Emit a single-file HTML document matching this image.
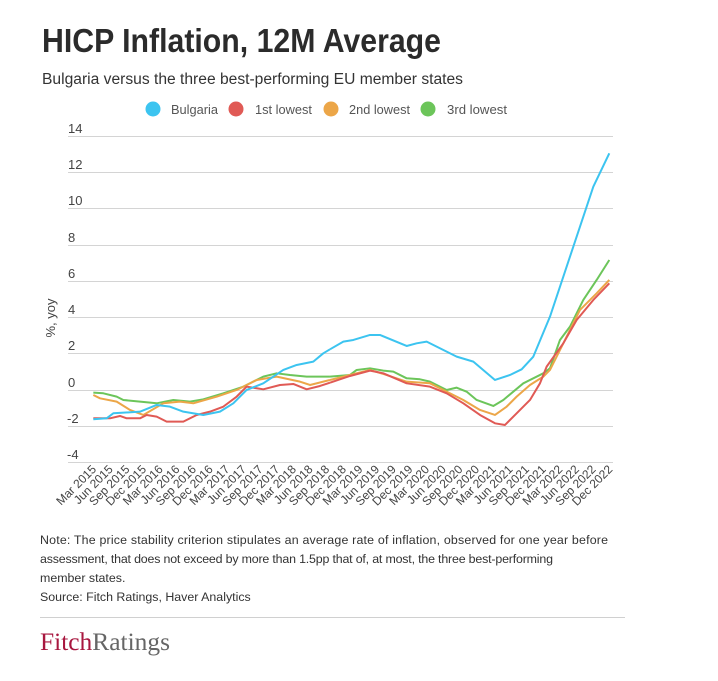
<!DOCTYPE html>
<html><head><meta charset="utf-8"><style>
html,body{margin:0;padding:0;background:#fff;}
svg{display:block;font-family:"Liberation Sans",sans-serif;}
</style></head><body>
<svg width="718" height="681" viewBox="0 0 718 681" xmlns="http://www.w3.org/2000/svg">
<text x="42" y="52" font-size="33" font-weight="bold" fill="#2b2b2b" textLength="399" lengthAdjust="spacingAndGlyphs">HICP Inflation, 12M Average</text>
<text x="42" y="84" font-size="15.5" fill="#333" textLength="421" lengthAdjust="spacingAndGlyphs">Bulgaria versus the three best-performing EU member states</text>
<g font-size="13" fill="#555">
<circle cx="153" cy="109" r="7.5" fill="#3cc4f0"/><text x="171" y="114" textLength="47" lengthAdjust="spacingAndGlyphs">Bulgaria</text>
<circle cx="236" cy="109" r="7.5" fill="#e05a55"/><text x="255" y="114" textLength="57" lengthAdjust="spacingAndGlyphs">1st lowest</text>
<circle cx="331" cy="109" r="7.5" fill="#eca648"/><text x="349" y="114" textLength="61" lengthAdjust="spacingAndGlyphs">2nd lowest</text>
<circle cx="428" cy="109" r="7.5" fill="#6cc55a"/><text x="447" y="114" textLength="60" lengthAdjust="spacingAndGlyphs">3rd lowest</text>
</g>
<g stroke="#d4d4d4" stroke-width="1">
<line x1="68" x2="613" y1="136.5" y2="136.5"/><line x1="68" x2="613" y1="172.5" y2="172.5"/>
<line x1="68" x2="613" y1="208.5" y2="208.5"/><line x1="68" x2="613" y1="245.5" y2="245.5"/>
<line x1="68" x2="613" y1="281.5" y2="281.5"/><line x1="68" x2="613" y1="317.5" y2="317.5"/>
<line x1="68" x2="613" y1="353.5" y2="353.5"/><line x1="68" x2="613" y1="390.5" y2="390.5"/>
<line x1="68" x2="613" y1="426.5" y2="426.5"/><line x1="68" x2="613" y1="462.5" y2="462.5"/>
</g>
<g font-size="13" fill="#444">
<text x="68" y="133">14</text><text x="68" y="169">12</text><text x="68" y="205">10</text>
<text x="68" y="242">8</text><text x="68" y="278">6</text><text x="68" y="314">4</text>
<text x="68" y="350">2</text><text x="68" y="387">0</text><text x="67" y="423">-2</text><text x="67" y="459">-4</text>
</g>
<text transform="translate(55,318) rotate(-90)" text-anchor="middle" font-size="13" fill="#444">%, yoy</text>
<g fill="none" stroke-width="6" stroke-linejoin="round" transform="translate(30,110) scale(0.3333)">
<polyline stroke="#6cc55a" points="190,848 220,850 260,860 280,870 330,875 380,880 430,870 480,875 520,868 580,850 640,830 700,800 740,790 780,795 830,800 900,800"/>
<polyline stroke="#eca648" points="190,855 210,865 260,875 300,900 340,915 400,880 450,875 490,880 560,860 620,840 680,810 740,800 810,815 840,825 880,815 900,810"/>
<polyline stroke="#e05a55" points="190,925 240,925 270,918 290,925 330,925 350,915 380,920 410,935 460,935 500,915 540,905 580,890 620,860 650,830 700,838 750,825 790,822 830,838 870,828 900,818"/>
<polyline stroke="#3cc4f0" points="190,928 230,925 250,910 330,905 380,885 420,890 460,905 520,915 570,905 610,880 650,840 700,820 760,780 800,765 850,755 880,730 900,718"/>
</g>
<g fill="none" stroke-width="6" stroke-linejoin="round" transform="translate(330,110) scale(0.3333)">
<polyline stroke="#6cc55a" points="0,800 60,795 80,780 120,775 160,782 190,785 230,805 270,808 300,815 350,840 380,833 410,845 440,870 490,888 520,870 580,820 640,790 660,775 690,690 720,650 760,570 800,510 838,450"/>
<polyline stroke="#eca648" points="0,810 60,795 120,780 160,792 230,815 300,820 350,845 400,870 450,900 495,915 530,890 560,860 600,825 640,800 660,780 700,700 750,600 800,550 838,510"/>
<polyline stroke="#e05a55" points="0,818 60,798 120,782 160,790 230,820 300,830 350,850 400,880 450,915 495,940 525,945 560,910 600,870 630,820 650,770 700,700 740,630 790,570 838,520"/>
<polyline stroke="#3cc4f0" points="0,718 40,695 70,690 120,675 150,675 230,708 260,700 290,695 350,725 380,740 430,755 495,810 540,795 575,778 610,740 660,620 700,500 750,350 790,230 838,130"/>
</g>
<g font-size="12" fill="#444" text-anchor="end">
<text transform="translate(97,470) rotate(-45)">Mar 2015</text>
<text transform="translate(113.6,470) rotate(-45)">Jun 2015</text>
<text transform="translate(130.3,470) rotate(-45)">Sep 2015</text>
<text transform="translate(147,470) rotate(-45)">Dec 2015</text>
<text transform="translate(163.6,470) rotate(-45)">Mar 2016</text>
<text transform="translate(180.3,470) rotate(-45)">Jun 2016</text>
<text transform="translate(196.9,470) rotate(-45)">Sep 2016</text>
<text transform="translate(213.6,470) rotate(-45)">Dec 2016</text>
<text transform="translate(230.2,470) rotate(-45)">Mar 2017</text>
<text transform="translate(246.9,470) rotate(-45)">Jun 2017</text>
<text transform="translate(263.5,470) rotate(-45)">Sep 2017</text>
<text transform="translate(280.2,470) rotate(-45)">Dec 2017</text>
<text transform="translate(296.8,470) rotate(-45)">Mar 2018</text>
<text transform="translate(313.5,470) rotate(-45)">Jun 2018</text>
<text transform="translate(330.1,470) rotate(-45)">Sep 2018</text>
<text transform="translate(346.8,470) rotate(-45)">Dec 2018</text>
<text transform="translate(363.4,470) rotate(-45)">Mar 2019</text>
<text transform="translate(380.1,470) rotate(-45)">Jun 2019</text>
<text transform="translate(396.7,470) rotate(-45)">Sep 2019</text>
<text transform="translate(413.4,470) rotate(-45)">Dec 2019</text>
<text transform="translate(430,470) rotate(-45)">Mar 2020</text>
<text transform="translate(446.7,470) rotate(-45)">Jun 2020</text>
<text transform="translate(463.3,470) rotate(-45)">Sep 2020</text>
<text transform="translate(480,470) rotate(-45)">Dec 2020</text>
<text transform="translate(496.6,470) rotate(-45)">Mar 2021</text>
<text transform="translate(513.3,470) rotate(-45)">Jun 2021</text>
<text transform="translate(529.9,470) rotate(-45)">Sep 2021</text>
<text transform="translate(546.6,470) rotate(-45)">Dec 2021</text>
<text transform="translate(563.2,470) rotate(-45)">Mar 2022</text>
<text transform="translate(579.9,470) rotate(-45)">Jun 2022</text>
<text transform="translate(596.5,470) rotate(-45)">Sep 2022</text>
<text transform="translate(613.2,470) rotate(-45)">Dec 2022</text>
</g>
<g font-size="12.4" fill="#333">
<text x="40" y="544" textLength="568" lengthAdjust="spacing">Note: The price stability criterion stipulates an average rate of inflation, observed for one year before</text>
<text x="40" y="563" textLength="513" lengthAdjust="spacing">assessment, that does not exceed by more than 1.5pp that of, at most, the three best-performing</text>
<text x="40" y="582">member states.</text>
<text x="40" y="601">Source: Fitch Ratings, Haver Analytics</text>
</g>
<line x1="40" x2="625" y1="617.5" y2="617.5" stroke="#d0d0d0"/>
<text x="40" y="650" font-family="Liberation Serif,serif" font-size="25" textLength="130" lengthAdjust="spacingAndGlyphs"><tspan fill="#a8173f">Fitch</tspan><tspan fill="#666">Ratings</tspan></text>
</svg>
</body></html>
